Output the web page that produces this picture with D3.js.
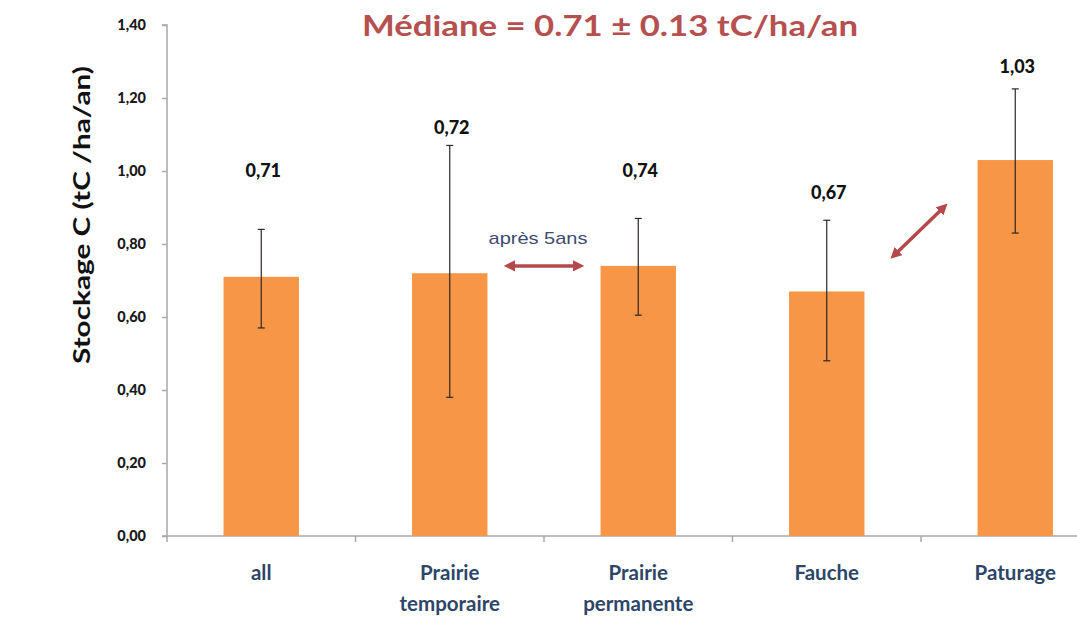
<!DOCTYPE html>
<html><head><meta charset="utf-8">
<script src="https://cdn.jsdelivr.net/npm/d3@7"></script>
<style>body{margin:0;background:#fff;} svg{display:block;}</style>
</head><body>
<svg id="chart" width="1077" height="619"></svg>
<script>
const categories = [["all"], ["Prairie","temporaire"], ["Prairie","permanente"], ["Fauche"], ["Paturage"]];
const values = [0.71, 0.72, 0.74, 0.67, 1.03];
const valueLabels = ["0,71", "0,72", "0,74", "0,67", "1,03"];
const errLow = [0.57, 0.38, 0.605, 0.48, 0.83];
const errHigh = [0.84, 1.07, 0.87, 0.865, 1.225];
const labelAt = [1.00, 1.118, 1.00, 0.94, 1.285];
const yTicks = [0, 0.2, 0.4, 0.6, 0.8, 1.0, 1.2, 1.4];
const yTickLabels = ["0,00","0,20","0,40","0,60","0,80","1,00","1,20","1,40"];
const titleText = "Médiane = 0.71 ± 0.13 tC/ha/an";
const yTitle = "Stockage C (tC /ha/an)";
const noteText = "après 5ans";

const svg = d3.select("#chart");
const x0 = 167, step = 188.5;
const keys = categories.map((c,i)=>i);
const x = d3.scaleBand().domain(keys).range([x0, x0 + step*keys.length]).paddingInner(0.6).paddingOuter(0.3);
const y = d3.scaleLinear().domain([0, 1.4]).range([536, 25]);
const font = "Lato, 'Open Sans', sans-serif";

// y axis
const yAxis = d3.axisLeft(y).tickValues(yTicks).tickFormat((d,i)=>yTickLabels[i]).tickSize(5).tickPadding(16);
const gy = svg.append("g").attr("transform", `translate(${x0},0)`).call(yAxis);
gy.select(".domain").attr("stroke", "#a8a8a8").attr("stroke-width", 1.5).attr("d", `M-5,${y(1.4)}H0V${y(0)}`);
gy.selectAll(".tick line").attr("stroke", "#a8a8a8").attr("stroke-width", 1.5);
gy.selectAll(".tick text").attr("fill", "#1a1a1a").attr("font-family", font)
  .attr("font-weight", "900").attr("font-size", 14.5);

// x axis
const gx = svg.append("g").attr("transform", `translate(0,${y(0)})`);
gx.append("line").attr("x1", x0-5).attr("x2", 1077).attr("y1", 0).attr("y2", 0).attr("stroke", "#a8a8a8").attr("stroke-width", 1.5);
gx.selectAll("line.tk").data(d3.range(keys.length)).join("line").attr("class","tk")
  .attr("x1", i => x0 + step*i).attr("x2", i => x0 + step*i).attr("y1", 0).attr("y2", 6)
  .attr("stroke", "#a8a8a8").attr("stroke-width", 1.5);

// bars
svg.append("g").selectAll("rect").data(values).join("rect")
  .attr("x", (d,i)=>x(i)).attr("width", x.bandwidth())
  .attr("y", d=>y(d)).attr("height", d=>y(0)-y(d)).attr("fill", "#f79646");

// error bars
const eg = svg.append("g").attr("stroke", "#2e2626").attr("stroke-width", 1.2);
values.forEach((v,i)=>{
  const cx = x(i) + x.bandwidth()/2;
  eg.append("line").attr("x1", cx).attr("x2", cx).attr("y1", y(errHigh[i])).attr("y2", y(errLow[i]));
  eg.append("line").attr("x1", cx-3.5).attr("x2", cx+3.5).attr("y1", y(errHigh[i])).attr("y2", y(errHigh[i]));
  eg.append("line").attr("x1", cx-3.5).attr("x2", cx+3.5).attr("y1", y(errLow[i])).attr("y2", y(errLow[i]));
});

// value labels
svg.append("g").selectAll("text").data(valueLabels).join("text")
  .attr("x", (d,i)=>x(i) + x.bandwidth()/2 + 2).attr("y", (d,i)=>y(labelAt[i]))
  .attr("dy", "0.35em").attr("text-anchor", "middle")
  .attr("font-family", font).attr("font-weight", "900").attr("font-size", 18)
  .attr("fill", "#111").text(d=>d);

// category labels
const cl = svg.append("g");
categories.forEach((lines,i)=>{
  const t = cl.append("text").attr("x", x(i) + x.bandwidth()/2).attr("y", 580)
    .attr("text-anchor", "middle").attr("font-family", font)
    .attr("font-weight", "bold").attr("font-size", 20.5).attr("fill", "#2d4668");
  lines.forEach((ln,j)=>t.append("tspan").attr("x", x(i) + x.bandwidth()/2).attr("dy", j===0?0:31).text(ln));
});

// y title
svg.append("text").attr("transform", "translate(90,215) rotate(-90)").attr("text-anchor", "middle")
  .attr("font-family", font).attr("font-weight", "bold").attr("font-size", 23)
  .attr("fill", "#111").attr("textLength", 298).attr("lengthAdjust", "spacingAndGlyphs").text(yTitle);

// title
svg.append("text").attr("x", 362).attr("y", 36)
  .attr("font-family", font).attr("font-weight", "bold").attr("font-size", 29)
  .attr("fill", "#b5504f").attr("textLength", 496).attr("lengthAdjust", "spacingAndGlyphs").text(titleText);

// annotation
svg.append("text").attr("x", 538).attr("y", 238).attr("dy", "0.35em").attr("text-anchor", "middle")
  .attr("font-family", "'Liberation Sans', Arial, sans-serif").attr("font-size", 17)
  .attr("fill", "#3d4b6e").attr("textLength", 99).attr("lengthAdjust", "spacingAndGlyphs").text(noteText);

const defs = svg.append("defs");
defs.append("marker").attr("id", "ah").attr("viewBox", "0 0 10 10").attr("refX", 5).attr("refY", 5)
  .attr("markerWidth", 3.2).attr("markerHeight", 3.2).attr("orient", "auto-start-reverse")
  .attr("markerUnits", "strokeWidth")
  .append("path").attr("d", "M0,0L10,5L0,10z").attr("fill", "#b5484b");
const midL = x(1) + x.bandwidth(), midR = x(2);
svg.append("line").attr("x1", midL + 22).attr("x2", midR - 22).attr("y1", y(0.74)).attr("y2", y(0.74))
  .attr("stroke", "#b5484b").attr("stroke-width", 3.5)
  .attr("marker-start", "url(#ah)").attr("marker-end", "url(#ah)");
const f4 = x(3) + x.bandwidth(), f5 = x(4);
svg.append("line").attr("x1", f4 + 30).attr("x2", f5 - 34).attr("y1", y(0.77)).attr("y2", y(0.90))
  .attr("stroke", "#b5484b").attr("stroke-width", 3.5)
  .attr("marker-start", "url(#ah)").attr("marker-end", "url(#ah)");
</script>
</body></html>
